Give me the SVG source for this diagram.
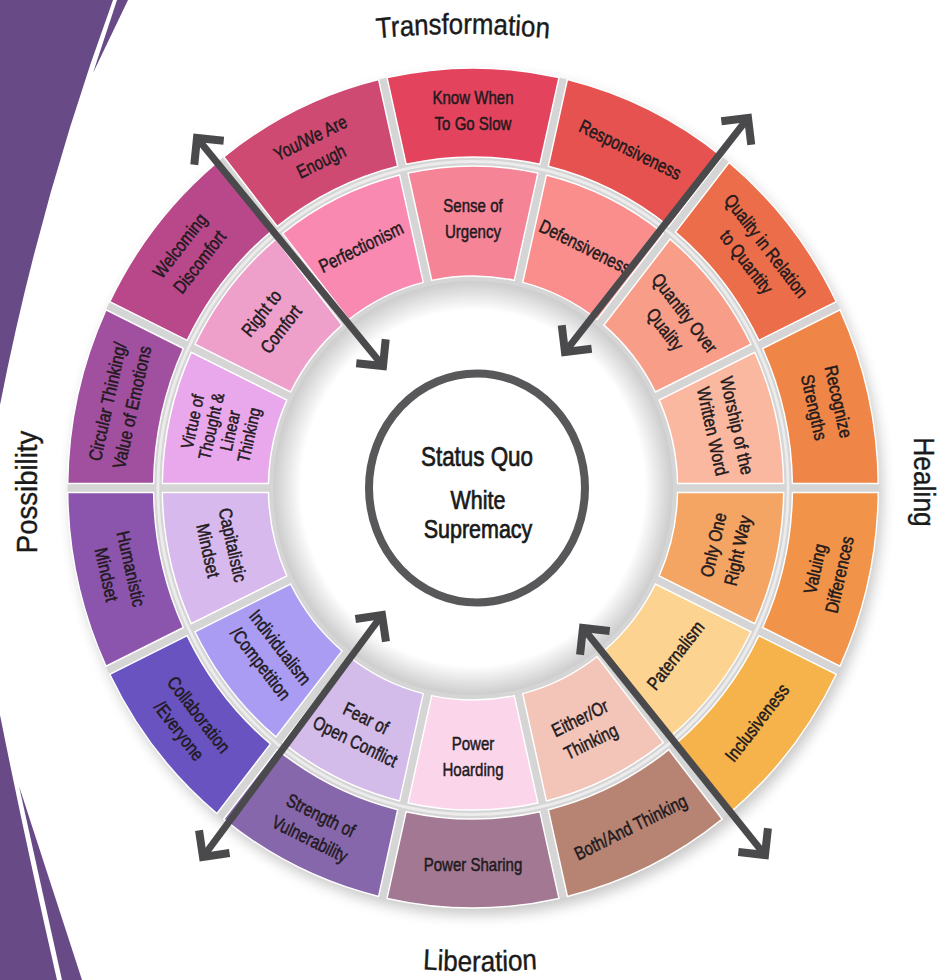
<svg xmlns="http://www.w3.org/2000/svg" width="947" height="980" viewBox="0 0 947 980">
<defs>
<style>
.t{font-family:"Liberation Sans",Arial,sans-serif;font-size:19px;fill:#221a1d;stroke:#221a1d;stroke-width:0.5;text-anchor:middle}
.t4{font-size:18px}
.ct{font-family:"Liberation Sans",Arial,sans-serif;font-size:27px;fill:#1a1a1a;stroke:#1a1a1a;stroke-width:0.7;text-anchor:middle}
.lbl{font-family:"Liberation Sans",Arial,sans-serif;font-size:29px;fill:#1a1a1a;stroke:#1a1a1a;stroke-width:0.4;text-anchor:middle}
.seg{stroke:#ffffff;stroke-width:1.5}
.band{fill:#674a86}
.arrow{stroke:#4a4a4c;stroke-width:7;fill:none;marker-start:url(#ah);marker-end:url(#ah)}
</style>
<path id="so" d="M -89.07,-410.45 A 420 420 0 0 1 89.07,-410.45 L 69.26,-323.67 A 331 331 0 0 0 -69.26,-323.67 Z"/>
<path id="si" d="M -67.26,-314.90 A 322 322 0 0 1 67.26,-314.90 L 42.78,-207.64 A 212 212 0 0 0 -42.78,-207.64 Z"/>
<marker id="ah" markerUnits="userSpaceOnUse" viewBox="-30 -30 40 60" markerWidth="40" markerHeight="60" refX="0" refY="0" orient="auto-start-reverse" overflow="visible">
<path d="M -19,-19 L 0,0 L -19,19" fill="none" stroke="#4a4a4c" stroke-width="8"/>
</marker>
<radialGradient id="innerShade" cx="0" cy="0" r="212" gradientUnits="userSpaceOnUse">
<stop offset="0.84" stop-color="#ffffff"/>
<stop offset="0.96" stop-color="#d2d2d2"/>
<stop offset="1" stop-color="#c6c6c6"/>
</radialGradient>
<filter id="sh" x="-15%" y="-15%" width="130%" height="130%"><feGaussianBlur stdDeviation="7"/></filter>
<path id="pT" d="M 263,54 A 1000 1000 0 0 1 663,54"/>
<path id="pL" d="M 280,951 A 1000 1000 0 0 0 680,951"/>
</defs>
<rect width="947" height="980" fill="#ffffff"/>
<g id="background-band">
<path class="band" d="M0,0 L113,0 Q40,200 0,405 Z"/>
<path class="band" d="M117,0 L128,0 L93,73 Z"/>
<path class="band" d="M0,715 Q25,840 57,980 L0,980 Z"/>
<path class="band" d="M19,786 L62,980 L82,980 Z"/>
</g>
<g id="labels">
<text class="lbl" transform="translate(463,0) scale(0.89,1) translate(-463,0)"><textPath href="#pT" startOffset="50%">Transformation</textPath></text>
<text class="lbl" transform="translate(480,0) scale(0.9,1) translate(-480,0)"><textPath href="#pL" startOffset="50%">Liberation</textPath></text>
<text class="lbl" transform="translate(914,482) rotate(90) scale(0.91,1)">Healing</text>
<text class="lbl" transform="translate(37,492) rotate(-90) scale(0.95,1)">Possibility</text>
</g>
<g id="wheel" transform="translate(473,488) scale(0.965,1)">
<circle r="420" fill="#000" opacity="0.22" transform="translate(4,7)" filter="url(#sh)"/>
<circle r="212" fill="url(#innerShade)"/>
<path d="M 0,-420 A 420 420 0 1 1 0,420 A 420 420 0 1 1 0,-420 Z M 0,-207 A 207 207 0 1 0 0,207 A 207 207 0 1 0 0,-207 Z" fill="#d5d5d5" fill-rule="evenodd"/>
<circle r="326.5" fill="none" stroke="#ececec" stroke-width="3"/>

<g id="o0"><use href="#so" class="seg" fill="#e4435d"/><text class="t" transform="rotate(0) translate(0,-378) scale(0.82,1)"><tspan x="0" y="-6">Know When</tspan><tspan x="0" y="20">To Go Slow</tspan></text></g>
<g id="o1"><use href="#so" class="seg" fill="#e5524f" transform="rotate(25.714)"/><text class="t" transform="rotate(25.714) translate(0,-376) scale(0.82,1)"><tspan x="0" y="7">Responsiveness</tspan></text></g>
<g id="o2"><use href="#so" class="seg" fill="#ec6d4a" transform="rotate(51.429)"/><text class="t" transform="rotate(51.429) translate(0,-376) scale(0.82,1)"><tspan x="0" y="-6">Quality in Relation</tspan><tspan x="0" y="20">to Quantity</tspan></text></g>
<g id="o3"><use href="#so" class="seg" fill="#ef8648" transform="rotate(77.143)"/><text class="t" transform="rotate(77.143) translate(0,-376) scale(0.82,1)"><tspan x="0" y="-6">Recognize</tspan><tspan x="0" y="20">Strengths</tspan></text></g>
<g id="o4"><use href="#so" class="seg" fill="#f19349" transform="rotate(102.857)"/><text class="t" transform="rotate(102.857) translate(0,-376) rotate(180) scale(0.82,1)"><tspan x="0" y="-6">Valuing</tspan><tspan x="0" y="20">Differences</tspan></text></g>
<g id="o5"><use href="#so" class="seg" fill="#f6b24b" transform="rotate(128.571)"/><text class="t" transform="rotate(128.571) translate(0,-376) rotate(180) scale(0.82,1)"><tspan x="0" y="7">Inclusiveness</tspan></text></g>
<g id="o6"><use href="#so" class="seg" fill="#b78474" transform="rotate(154.286)"/><text class="t" transform="rotate(154.286) translate(0,-376) rotate(180) scale(0.82,1)"><tspan x="0" y="7">Both/And Thinking</tspan></text></g>
<g id="o7"><use href="#so" class="seg" fill="#a27892" transform="rotate(180)"/><text class="t" transform="rotate(180) translate(0,-376) rotate(180) scale(0.82,1)"><tspan x="0" y="7">Power Sharing</tspan></text></g>
<g id="o8"><use href="#so" class="seg" fill="#8767ab" transform="rotate(205.714)"/><text class="t" transform="rotate(205.714) translate(0,-376) rotate(180) scale(0.82,1)"><tspan x="0" y="-6">Strength of</tspan><tspan x="0" y="20">Vulnerability</tspan></text></g>
<g id="o9"><use href="#so" class="seg" fill="#6853c1" transform="rotate(231.429)"/><text class="t" transform="rotate(231.429) translate(0,-376) rotate(180) scale(0.82,1)"><tspan x="0" y="-6">Collaboration</tspan><tspan x="0" y="20">/Everyone</tspan></text></g>
<g id="o10"><use href="#so" class="seg" fill="#8b55ae" transform="rotate(257.143)"/><text class="t" transform="rotate(257.143) translate(0,-376) rotate(180) scale(0.82,1)"><tspan x="0" y="-6">Humanistic</tspan><tspan x="0" y="20">Mindset</tspan></text></g>
<g id="o11"><use href="#so" class="seg" fill="#a14f9f" transform="rotate(282.857)"/><text class="t" transform="rotate(282.857) translate(0,-376) scale(0.82,1)"><tspan x="0" y="-6">Circular Thinking/</tspan><tspan x="0" y="20">Value of Emotions</tspan></text></g>
<g id="o12"><use href="#so" class="seg" fill="#b8488a" transform="rotate(308.571)"/><text class="t" transform="rotate(308.571) translate(0,-376) scale(0.82,1)"><tspan x="0" y="-6">Welcoming</tspan><tspan x="0" y="20">Discomfort</tspan></text></g>
<g id="o13"><use href="#so" class="seg" fill="#cf4a72" transform="rotate(334.286)"/><text class="t" transform="rotate(334.286) translate(0,-376) scale(0.82,1)"><tspan x="0" y="-6">You/We Are</tspan><tspan x="0" y="20">Enough</tspan></text></g>

<g id="i0"><use href="#si" class="seg" fill="#f68497"/><text class="t" transform="rotate(0) translate(0,-270) scale(0.82,1)"><tspan x="0" y="-6">Sense of</tspan><tspan x="0" y="20">Urgency</tspan></text></g>
<g id="i1"><use href="#si" class="seg" fill="#f98e8c" transform="rotate(25.714)"/><text class="t" transform="rotate(25.714) translate(0,-268) scale(0.82,1)"><tspan x="0" y="7">Defensiveness</tspan></text></g>
<g id="i2"><use href="#si" class="seg" fill="#f89d87" transform="rotate(51.429)"/><text class="t" transform="rotate(51.429) translate(0,-268) scale(0.82,1)"><tspan x="0" y="-6">Quantity Over</tspan><tspan x="0" y="20">Quality</tspan></text></g>
<g id="i3"><use href="#si" class="seg" fill="#fbb8a0" transform="rotate(77.143)"/><text class="t" transform="rotate(77.143) translate(0,-268) scale(0.82,1)"><tspan x="0" y="-6">Worship of the</tspan><tspan x="0" y="20">Written Word</tspan></text></g>
<g id="i4"><use href="#si" class="seg" fill="#f4a463" transform="rotate(102.857)"/><text class="t" transform="rotate(102.857) translate(0,-268) rotate(180) scale(0.82,1)"><tspan x="0" y="-6">Only One</tspan><tspan x="0" y="20">Right Way</tspan></text></g>
<g id="i5"><use href="#si" class="seg" fill="#fdd391" transform="rotate(128.571)"/><text class="t" transform="rotate(128.571) translate(0,-268) rotate(180) scale(0.82,1)"><tspan x="0" y="7">Paternalism</tspan></text></g>
<g id="i6"><use href="#si" class="seg" fill="#f3c5b8" transform="rotate(154.286)"/><text class="t" transform="rotate(154.286) translate(0,-268) rotate(180) scale(0.82,1)"><tspan x="0" y="-6">Either/Or</tspan><tspan x="0" y="20">Thinking</tspan></text></g>
<g id="i7"><use href="#si" class="seg" fill="#fbd5ea" transform="rotate(180)"/><text class="t" transform="rotate(180) translate(0,-268) rotate(180) scale(0.82,1)"><tspan x="0" y="-6">Power</tspan><tspan x="0" y="20">Hoarding</tspan></text></g>
<g id="i8"><use href="#si" class="seg" fill="#d3bbea" transform="rotate(205.714)"/><text class="t" transform="rotate(205.714) translate(0,-268) rotate(180) scale(0.82,1)"><tspan x="0" y="-6">Fear of</tspan><tspan x="0" y="20">Open Conflict</tspan></text></g>
<g id="i9"><use href="#si" class="seg" fill="#a99cf2" transform="rotate(231.429)"/><text class="t" transform="rotate(231.429) translate(0,-268) rotate(180) scale(0.82,1)"><tspan x="0" y="-6">Individualism</tspan><tspan x="0" y="20">/Competition</tspan></text></g>
<g id="i10"><use href="#si" class="seg" fill="#d7b9ee" transform="rotate(257.143)"/><text class="t" transform="rotate(257.143) translate(0,-268) rotate(180) scale(0.82,1)"><tspan x="0" y="-6">Capitalistic</tspan><tspan x="0" y="20">Mindset</tspan></text></g>
<g id="i11"><use href="#si" class="seg" fill="#eaa8ec" transform="rotate(282.857)"/><text class="t t4" transform="rotate(282.857) translate(0,-268) scale(0.82,1)"><tspan x="0" y="-24">Virtue of</tspan><tspan x="0" y="-4">Thought &amp;</tspan><tspan x="0" y="16">Linear</tspan><tspan x="0" y="36">Thinking</tspan></text></g>
<g id="i12"><use href="#si" class="seg" fill="#eea0cb" transform="rotate(308.571)"/><text class="t" transform="rotate(308.571) translate(0,-268) scale(0.82,1)"><tspan x="0" y="-6">Right to</tspan><tspan x="0" y="20">Comfort</tspan></text></g>
<g id="i13"><use href="#si" class="seg" fill="#f989b1" transform="rotate(334.286)"/><text class="t" transform="rotate(334.286) translate(0,-268) scale(0.82,1)"><tspan x="0" y="7">Perfectionism</tspan></text></g>
</g>
<g id="center">
<ellipse cx="477" cy="488" rx="108" ry="114.5" fill="#ffffff" stroke="#58585a" stroke-width="8"/>
<text class="ct" transform="translate(477,466) scale(0.83,1)">Status Quo</text>
<text class="ct" style="font-size:25px" transform="translate(478,509) scale(0.86,1)">White</text>
<text class="ct" style="font-size:25px" transform="translate(478,538) scale(0.86,1)">Supremacy</text>
</g>
<g id="connectors">
<line class="arrow" x1="383" y1="366" x2="197" y2="138"/>
<line class="arrow" x1="565" y1="352" x2="748" y2="118"/>
<line class="arrow" x1="583" y1="628" x2="765" y2="855"/>
<line class="arrow" x1="382" y1="615" x2="203" y2="857"/>
</g>
</svg>
